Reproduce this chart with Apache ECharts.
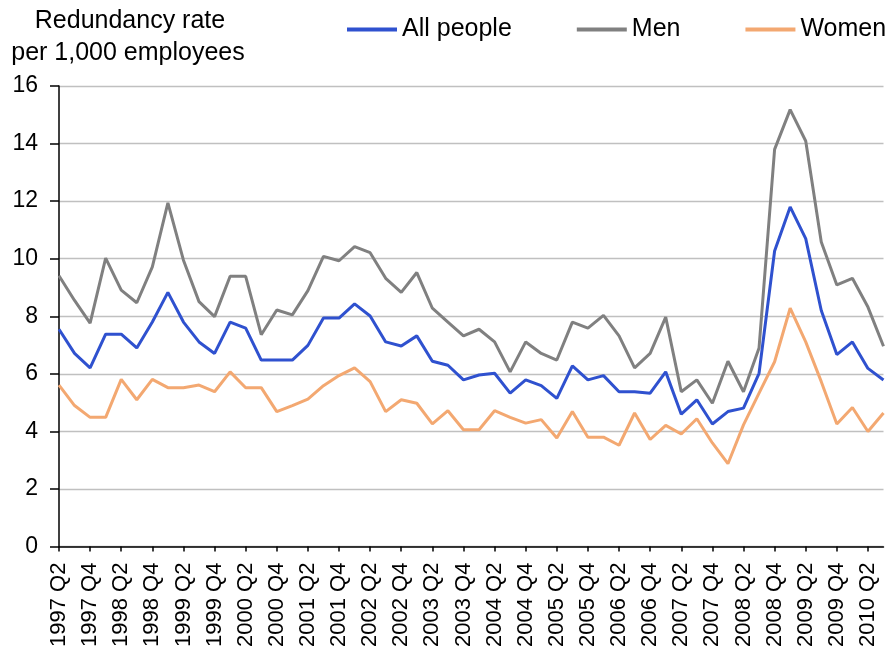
<!DOCTYPE html>
<html>
<head>
<meta charset="utf-8">
<script src="https://cdn.jsdelivr.net/npm/echarts@6/dist/echarts.min.js"></script>
<style>
  html, body { margin: 0; padding: 0; background: #fff; }
  #main { width: 893px; height: 650px; }
</style>
</head>
<body>
<div id="main"></div>
<script>
var quarters = [
  '1997 Q2', '1997 Q3', '1997 Q4', '1998 Q1', '1998 Q2', '1998 Q3', '1998 Q4', '1999 Q1',
  '1999 Q2', '1999 Q3', '1999 Q4', '2000 Q1', '2000 Q2', '2000 Q3', '2000 Q4', '2001 Q1',
  '2001 Q2', '2001 Q3', '2001 Q4', '2002 Q1', '2002 Q2', '2002 Q3', '2002 Q4', '2003 Q1',
  '2003 Q2', '2003 Q3', '2003 Q4', '2004 Q1', '2004 Q2', '2004 Q3', '2004 Q4', '2005 Q1',
  '2005 Q2', '2005 Q3', '2005 Q4', '2006 Q1', '2006 Q2', '2006 Q3', '2006 Q4', '2007 Q1',
  '2007 Q2', '2007 Q3', '2007 Q4', '2008 Q1', '2008 Q2', '2008 Q3', '2008 Q4', '2009 Q1',
  '2009 Q2', '2009 Q3', '2009 Q4', '2010 Q1', '2010 Q2', '2010 Q3'
];

var allPeople = [
  7.55, 6.71, 6.21, 7.38, 7.38, 6.90, 7.80, 8.83, 7.80, 7.11,
  6.71, 7.80, 7.59, 6.48, 6.48, 6.48, 6.99, 7.94, 7.94, 8.43,
  8.01, 7.11, 6.97, 7.32, 6.44, 6.30, 5.79, 5.96, 6.02, 5.33,
  5.79, 5.59, 5.15, 6.28, 5.79, 5.94, 5.38, 5.38, 5.33, 6.07,
  4.60, 5.10, 4.26, 4.69, 4.81, 6.02, 10.27, 11.80, 10.70, 8.20,
  6.67, 7.11, 6.19, 5.79
];

var men = [
  9.41, 8.55, 7.76, 10.02, 8.91, 8.47, 9.72, 11.94, 9.95, 8.51,
  7.99, 9.39, 9.39, 7.36, 8.22, 8.05, 8.89, 10.08, 9.93, 10.42,
  10.21, 9.32, 8.83, 9.52, 8.28, 7.80, 7.32, 7.55, 7.11, 6.07,
  7.11, 6.71, 6.48, 7.80, 7.59, 8.03, 7.32, 6.21, 6.71, 7.97,
  5.38, 5.79, 4.98, 6.44, 5.38, 6.90, 13.80, 15.18, 14.09, 10.58,
  9.09, 9.32, 8.32, 6.96
];

var women = [
  5.61, 4.90, 4.49, 4.49, 5.81, 5.10, 5.81, 5.52, 5.52, 5.61,
  5.38, 6.07, 5.52, 5.52, 4.69, 4.90, 5.12, 5.59, 5.94, 6.21,
  5.73, 4.69, 5.10, 4.98, 4.26, 4.72, 4.06, 4.06, 4.72, 4.49,
  4.29, 4.41, 3.77, 4.69, 3.80, 3.80, 3.52, 4.64, 3.72, 4.21,
  3.91, 4.44, 3.60, 2.88, 4.23, 5.33, 6.42, 8.28, 7.11, 5.73,
  4.26, 4.83, 4.00, 4.64
];

var font = 'Liberation Sans, Arial, sans-serif';
var myChart = echarts.init(document.getElementById('main'));

var option = {
  backgroundColor: '#fff',
  animation: false,
  textStyle: { fontFamily: font },
  graphic: [
    {
      type: 'text', x: 130, y: 21,
      style: { text: 'Redundancy rate', fill: '#000', font: '25px ' + font, textAlign: 'center', textVerticalAlign: 'middle' }
    },
    {
      type: 'text', x: 128, y: 53,
      style: { text: 'per 1,000 employees', fill: '#000', font: '25px ' + font, textAlign: 'center', textVerticalAlign: 'middle' }
    }
  ],
  legend: {
    left: 347,
    top: 17,
    width: 546,
    padding: 0,
    icon: 'rect',
    itemWidth: 50,
    itemHeight: 4,
    itemGap: 65,
    textStyle: { fontSize: 25, color: '#000', fontFamily: font },
    data: ['All people', 'Men', 'Women']
  },
  grid: { left: 59, right: 9.5, top: 86, bottom: 101, containLabel: false },
  xAxis: {
    type: 'category',
    data: quarters,
    boundaryGap: false,
    axisLine: { lineStyle: { color: '#000', width: 1.5 } },
    axisTick: { interval: 1, length: 5, lineStyle: { color: '#000', width: 1.5 } },
    axisLabel: { interval: 1, rotate: 90, margin: 16, fontSize: 22, color: '#000', fontFamily: font },
    splitLine: { show: false }
  },
  yAxis: {
    type: 'value',
    min: 0,
    max: 16,
    interval: 2,
    axisLine: { show: true, lineStyle: { color: '#000', width: 1.5 } },
    axisTick: { show: true, length: 9, lineStyle: { color: '#000', width: 1.5 } },
    axisLabel: { margin: 21, fontSize: 23, color: '#000', fontFamily: font },
    splitLine: { lineStyle: { color: '#c0c0c0', width: 1.3 } }
  },
  series: [
    {
      name: 'All people', type: 'line', data: allPeople, symbol: 'none',
      itemStyle: { color: '#2f51cf' }, lineStyle: { color: '#2f51cf', width: 3 }
    },
    {
      name: 'Men', type: 'line', data: men, symbol: 'none',
      itemStyle: { color: '#808080' }, lineStyle: { color: '#808080', width: 3 }
    },
    {
      name: 'Women', type: 'line', data: women, symbol: 'none',
      itemStyle: { color: '#f3a871' }, lineStyle: { color: '#f3a871', width: 3 }
    }
  ]
};

myChart.setOption(option);
</script>
</body>
</html>
